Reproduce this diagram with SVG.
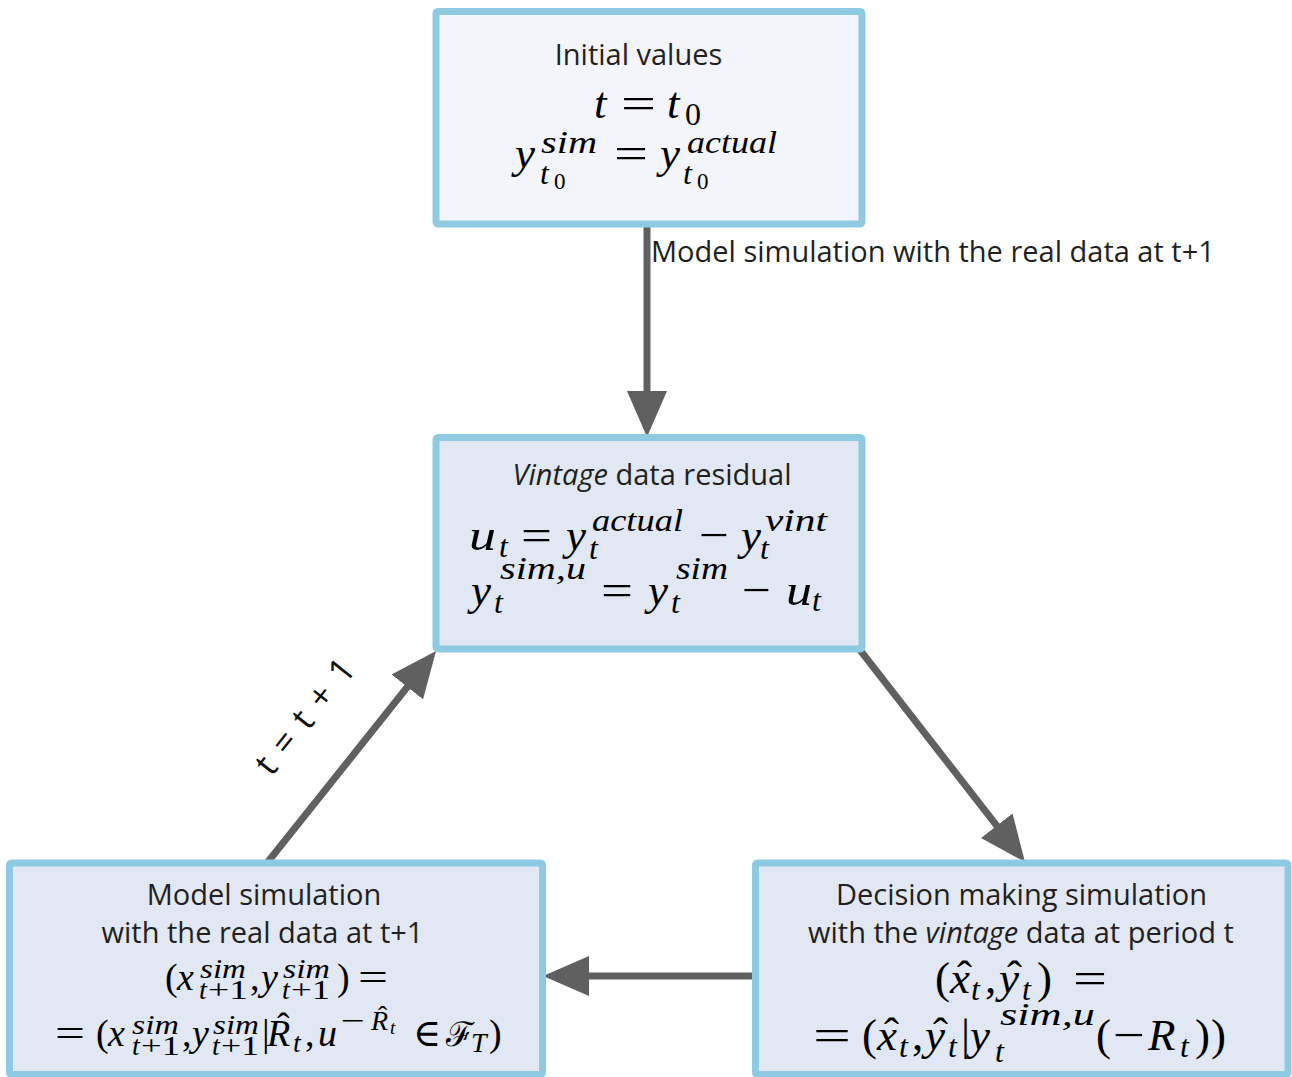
<svg xmlns="http://www.w3.org/2000/svg" width="1292" height="1077" viewBox="0 0 1292 1077">
  <defs>
    <style>
      .box { stroke: #8ecbe3; stroke-width: 7; }
      .b1 { fill: #f3f5fa; }
      .b2 { fill: #e1e7f3; }
      .lbl { font-family: "Open Sans", "Liberation Sans", sans-serif; font-size: 29px; fill: #231f20; }
      .step { font-family: "Open Sans", "Liberation Sans", sans-serif; font-size: 35px; letter-spacing: 2px; fill: #111; }
      .it { font-style: italic; }
      .mi { font-family: "Liberation Serif", "DejaVu Serif", serif; font-style: italic; fill: #000; }
      .mr { font-family: "Liberation Serif", "DejaVu Serif", serif; font-style: normal; }
      .cal { font-family: "DejaVu Serif", serif; font-style: normal; }
      .f45 { font-size: 45px; }
      .f38 { font-size: 38px; }
      .f34 { font-size: 34px; }
      .f32 { font-size: 32px; }
      .f28 { font-size: 28px; }
      .f23 { font-size: 23px; }
      .f19 { font-size: 19px; }
      .conn { stroke: #606060; stroke-width: 7; stroke-linecap: round; fill: none; marker-end: url(#head); }
    </style>
    <marker id="head" markerUnits="userSpaceOnUse" markerWidth="46" markerHeight="40" refX="6" refY="20" orient="auto">
      <path d="M0,0 L46,20 L0,40 Z" fill="#606060"/>
    </marker>
  </defs>

  <rect width="1292" height="1077" fill="#ffffff"/>

  <!-- connectors -->
  <g id="connectors">
    <line class="conn" x1="647" y1="224" x2="647" y2="397"/>
    <line class="conn" x1="860" y1="650" x2="1000.4" y2="830.4"/>
    <line class="conn" x1="758" y1="976" x2="583" y2="976"/>
    <line class="conn" x1="267" y1="863" x2="411.1" y2="682.3"/>
    <text class="lbl" x="651" y="262">Model simulation with the real data at t+1</text>
    <text class="step" x="315" y="723" text-anchor="middle" transform="rotate(-51.5 315 723)">t = t + 1</text>
  </g>

  <!-- initial values -->
  <g id="node-initial">
    <rect class="box b1" x="436" y="11.5" width="426" height="212.5" rx="2"/>
    <text class="lbl" x="638.5" y="65" text-anchor="middle">Initial values</text>
    <text class="mi f45"><tspan x="594" y="118">t</tspan><tspan class="mr" x="621" y="118" textLength="35" lengthAdjust="spacingAndGlyphs">=</tspan><tspan x="667" y="118">t</tspan><tspan class="mr f32" x="685" y="125">0</tspan></text>
    <text class="mi f45"><tspan x="515" y="168">y</tspan><tspan class="f32" x="541" y="153" textLength="56" lengthAdjust="spacingAndGlyphs">sim</tspan><tspan class="f32" x="540" y="184">t</tspan><tspan class="mr f23" x="554" y="189">0</tspan><tspan class="mr" x="614" y="168" textLength="34" lengthAdjust="spacingAndGlyphs">=</tspan><tspan x="660" y="168">y</tspan><tspan class="f32" x="687" y="153" textLength="90" lengthAdjust="spacingAndGlyphs">actual</tspan><tspan class="f32" x="683" y="184">t</tspan><tspan class="mr f23" x="697" y="189">0</tspan></text>
  </g>

  <!-- vintage data residual -->
  <g id="node-residual">
    <rect class="box b2" x="436" y="437.5" width="426" height="211.5" rx="2"/>
    <text class="lbl" x="652" y="485" text-anchor="middle"><tspan class="it">Vintage</tspan> data residual</text>
    <text class="mi f45"><tspan x="469" y="550" textLength="27" lengthAdjust="spacingAndGlyphs">u</tspan><tspan class="f32" x="499" y="557">t</tspan><tspan class="mr" x="521" y="550" textLength="31" lengthAdjust="spacingAndGlyphs">=</tspan><tspan x="566" y="550">y</tspan><tspan class="f32" x="592" y="531" textLength="91" lengthAdjust="spacingAndGlyphs">actual</tspan><tspan class="f32" x="589" y="559">t</tspan><tspan class="mr" x="699" y="550" textLength="30" lengthAdjust="spacingAndGlyphs">−</tspan><tspan x="741" y="550">y</tspan><tspan class="f32" x="765" y="531" textLength="62" lengthAdjust="spacingAndGlyphs">vint</tspan><tspan class="f32" x="760" y="559">t</tspan></text>
    <text class="mi f45"><tspan x="471" y="605">y</tspan><tspan class="f32" x="500" y="579" textLength="86" lengthAdjust="spacingAndGlyphs">sim,u</tspan><tspan class="f32" x="494" y="613">t</tspan><tspan class="mr" x="601" y="605" textLength="32" lengthAdjust="spacingAndGlyphs">=</tspan><tspan x="648" y="605">y</tspan><tspan class="f32" x="676" y="579" textLength="52" lengthAdjust="spacingAndGlyphs">sim</tspan><tspan class="f32" x="671" y="613">t</tspan><tspan class="mr" x="742" y="605" textLength="29" lengthAdjust="spacingAndGlyphs">−</tspan><tspan x="786" y="605" textLength="26" lengthAdjust="spacingAndGlyphs">u</tspan><tspan class="f32" x="812" y="611">t</tspan></text>
  </g>

  <!-- model simulation -->
  <g id="node-model">
    <rect class="box b2" x="9.5" y="863" width="533" height="211.5" rx="2"/>
    <text class="lbl" x="264" y="905" text-anchor="middle">Model simulation</text>
    <text class="lbl" x="262.5" y="943" text-anchor="middle">with the real data at t+1</text>
    <text class="mi f38"><tspan class="mr" x="165" y="990">(</tspan><tspan x="177" y="990">x</tspan><tspan class="f28" x="200" y="978" textLength="46" lengthAdjust="spacingAndGlyphs">sim</tspan><tspan class="f28" x="199" y="999">t</tspan><tspan class="mr f28" x="208" y="999" textLength="40" lengthAdjust="spacingAndGlyphs">+1</tspan><tspan class="mr" x="250" y="990">,</tspan><tspan x="261" y="990">y</tspan><tspan class="f28" x="283" y="978" textLength="47" lengthAdjust="spacingAndGlyphs">sim</tspan><tspan class="f28" x="282" y="999">t</tspan><tspan class="mr f28" x="291" y="999" textLength="39" lengthAdjust="spacingAndGlyphs">+1</tspan><tspan class="mr" x="337" y="990">)</tspan><tspan class="mr" x="358" y="990" textLength="30" lengthAdjust="spacingAndGlyphs">=</tspan></text>
    <text class="mi f38"><tspan class="mr" x="55" y="1046" textLength="30" lengthAdjust="spacingAndGlyphs">=</tspan><tspan class="mr" x="96" y="1046">(</tspan><tspan x="108" y="1046">x</tspan><tspan class="f28" x="132" y="1034" textLength="47" lengthAdjust="spacingAndGlyphs">sim</tspan><tspan class="f28" x="132" y="1055">t</tspan><tspan class="mr f28" x="141" y="1055" textLength="39" lengthAdjust="spacingAndGlyphs">+1</tspan><tspan class="mr" x="182" y="1046">,</tspan><tspan x="192" y="1046">y</tspan><tspan class="f28" x="213" y="1034" textLength="46" lengthAdjust="spacingAndGlyphs">sim</tspan><tspan class="f28" x="212" y="1055">t</tspan><tspan class="mr f28" x="221" y="1055" textLength="38" lengthAdjust="spacingAndGlyphs">+1</tspan><tspan class="mr" x="262" y="1046">|</tspan><tspan x="267" y="1046">R</tspan><tspan class="mr" x="277" y="1039">ˆ</tspan><tspan class="f28" x="293" y="1052">t</tspan><tspan class="mr" x="305" y="1046">,</tspan><tspan x="318" y="1046">u</tspan><tspan class="mr f28" x="341" y="1030" textLength="24" lengthAdjust="spacingAndGlyphs">−</tspan><tspan class="f28" x="371" y="1030">R</tspan><tspan class="mr f28" x="378" y="1025">ˆ</tspan><tspan class="f19" x="390" y="1034">t</tspan><tspan class="mr" x="413" y="1046">∈</tspan><tspan class="cal f34" x="446" y="1046">ℱ</tspan><tspan class="f28" x="471" y="1052">T</tspan><tspan class="mr" x="489" y="1046">)</tspan></text>
  </g>

  <!-- decision making simulation -->
  <g id="node-decision">
    <rect class="box b2" x="755.5" y="863" width="532.5" height="211.5" rx="2"/>
    <text class="lbl" x="1021.5" y="905" text-anchor="middle">Decision making simulation</text>
    <text class="lbl" x="1021" y="943" text-anchor="middle">with the <tspan class="it">vintage</tspan> data at period t</text>
    <text class="mi f45"><tspan class="mr" x="935" y="993">(</tspan><tspan x="950" y="993">x</tspan><tspan class="mr" x="957" y="991">ˆ</tspan><tspan class="f32" x="971" y="1000">t</tspan><tspan class="mr" x="985" y="993">,</tspan><tspan x="999" y="993">y</tspan><tspan class="mr" x="1007" y="991">ˆ</tspan><tspan class="f32" x="1022" y="1000">t</tspan><tspan class="mr" x="1037" y="993">)</tspan><tspan class="mr" x="1073" y="993" textLength="34" lengthAdjust="spacingAndGlyphs">=</tspan></text>
    <text class="mi f45"><tspan class="mr" x="813" y="1050" textLength="38" lengthAdjust="spacingAndGlyphs">=</tspan><tspan class="mr" x="862" y="1050">(</tspan><tspan x="877" y="1050">x</tspan><tspan class="mr" x="884" y="1048">ˆ</tspan><tspan class="f32" x="899" y="1057">t</tspan><tspan class="mr" x="912" y="1050">,</tspan><tspan x="925" y="1050">y</tspan><tspan class="mr" x="933" y="1048">ˆ</tspan><tspan class="f32" x="948" y="1057">t</tspan><tspan class="mr" x="961" y="1050">|</tspan><tspan x="970" y="1050">y</tspan><tspan class="f32" x="1000" y="1025" textLength="95" lengthAdjust="spacingAndGlyphs">sim,u</tspan><tspan class="f32" x="995" y="1062">t</tspan><tspan class="mr" x="1096" y="1050">(</tspan><tspan class="mr" x="1113" y="1050" textLength="32" lengthAdjust="spacingAndGlyphs">−</tspan><tspan x="1148" y="1050">R</tspan><tspan class="f32" x="1180" y="1057">t</tspan><tspan class="mr" x="1195" y="1050">)</tspan><tspan class="mr" x="1211" y="1050">)</tspan></text>
  </g>
</svg>
